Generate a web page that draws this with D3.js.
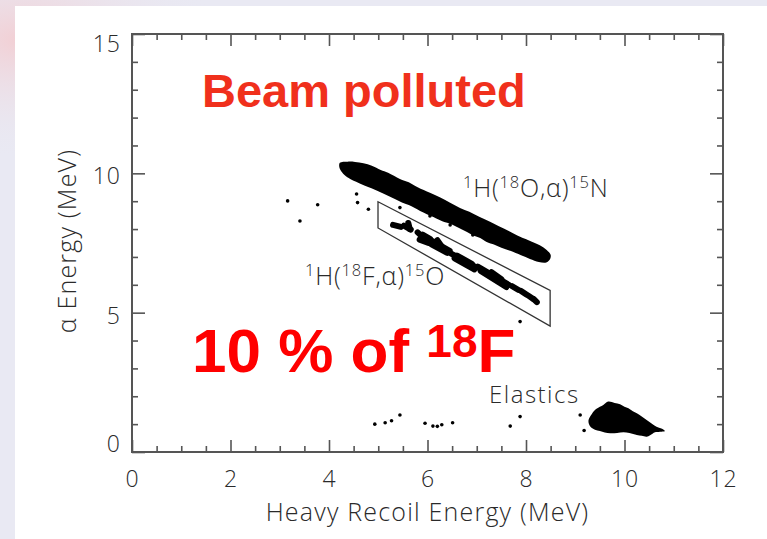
<!DOCTYPE html>
<html>
<head>
<meta charset="utf-8">
<script src="https://cdn.jsdelivr.net/npm/d3@7"></script>
<style>
  html, body { margin: 0; padding: 0; background: #e9e9f3; }
  svg { display: block; }
  .axis text { font-family: "Open Sans", "Liberation Sans", sans-serif; font-weight: 300; fill: #2a2a2a; }
  .lbl { font-family: "Open Sans", "Liberation Sans", sans-serif; font-weight: 300; fill: #2a2a2a; }
</style>
</head>
<body>
<script>
// Axis ticks
const xMajorTicks = [0, 2, 4, 6, 8, 10, 12];
const xMinorTicks = [0.5, 1, 1.5, 2.5, 3, 3.5, 4.5, 5, 5.5, 6.5, 7, 7.5, 8.5, 9, 9.5, 10.5, 11, 11.5];
const yMajorTicks = [0, 5, 10, 15];
const yMinorTicks = [1, 2, 3, 4, 6, 7, 8, 9, 11, 12, 13, 14];

// 1H(18O,alpha)15N locus: outline of the dense event band (heavy recoil MeV, alpha MeV)
const o18Band = [
  [4.22, 10.38], [4.38, 10.42], [4.53, 10.41], [4.70, 10.36], [4.87, 10.27],
  [5.05, 10.12], [5.20, 10.02], [5.44, 9.80], [5.62, 9.68], [5.80, 9.50],
  [6.05, 9.30], [6.25, 9.14], [6.45, 8.95], [6.66, 8.76], [6.85, 8.62],
  [7.05, 8.44], [7.27, 8.26], [7.45, 8.10], [7.65, 7.93], [7.88, 7.72],
  [8.05, 7.60], [8.28, 7.42], [8.42, 7.25], [8.50, 7.08], [8.49, 6.93],
  [8.41, 6.80], [8.26, 6.82], [8.08, 6.93], [7.90, 7.06], [7.68, 7.22],
  [7.50, 7.33], [7.36, 7.44], [7.20, 7.54], [7.07, 7.68], [6.90, 7.80],
  [6.70, 7.98], [6.46, 8.19], [6.30, 8.28], [6.12, 8.43], [5.85, 8.65],
  [5.62, 8.86], [5.45, 8.98], [5.24, 9.16], [5.00, 9.36], [4.73, 9.55],
  [4.55, 9.70], [4.43, 9.80], [4.32, 9.93], [4.26, 10.05], [4.21, 10.22]
];

// 1H(18F,alpha)15O locus: short event streaks inside the gate
const f18Streaks = [
  [[5.30, 8.15], [5.46, 8.08]],
  [[5.52, 8.12], [5.66, 7.98]],
  [[5.61, 8.22], [5.64, 8.00]],
  [[5.80, 7.88], [6.00, 7.55]],
  [[5.84, 7.62], [6.02, 7.50]],
  [[5.90, 7.80], [6.05, 7.65]],
  [[6.02, 7.65], [6.45, 7.22]],
  [[6.08, 7.45], [6.40, 7.15]],
  [[6.20, 7.60], [6.30, 7.35]],
  [[6.48, 7.12], [7.00, 6.62]],
  [[6.55, 6.95], [6.95, 6.55]],
  [[6.60, 7.05], [6.90, 6.75]],
  [[7.02, 6.65], [7.65, 6.00]],
  [[7.08, 6.50], [7.60, 5.92]],
  [[7.30, 6.45], [7.50, 6.20]],
  [[7.72, 5.95], [7.84, 5.82]],
  [[7.90, 5.78], [8.00, 5.66]],
  [[8.04, 5.62], [8.14, 5.50]],
  [[8.16, 5.48], [8.22, 5.38]]
];

// Software gate around the 18F locus
const gateBox = [[4.995, 8.98], [8.49, 5.80], [8.49, 4.52], [4.995, 8.04]];

// Elastically scattered beam
const elasticBlob = [
  [9.27, 1.15], [9.33, 1.35], [9.40, 1.51], [9.50, 1.62], [9.57, 1.69],
  [9.67, 1.81], [9.80, 1.76], [9.91, 1.71], [10.00, 1.62], [10.08, 1.57],
  [10.17, 1.46], [10.25, 1.39], [10.35, 1.27], [10.45, 1.15], [10.55, 1.02],
  [10.65, 0.91], [10.75, 0.84], [10.82, 0.75], [10.70, 0.72], [10.62, 0.71],
  [10.52, 0.60], [10.45, 0.55], [10.35, 0.58], [10.25, 0.61], [10.10, 0.68],
  [9.98, 0.71], [9.85, 0.68], [9.71, 0.67], [9.60, 0.70], [9.50, 0.75],
  [9.40, 0.80], [9.33, 0.87], [9.28, 1.00]
];

// Isolated events
const strayEvents = [
  [3.16, 9.01], [3.41, 8.29], [3.77, 8.87], [4.56, 9.26], [4.58, 8.95],
  [4.80, 8.71], [5.44, 8.77], [6.05, 8.47], [6.46, 8.15], [6.92, 7.79],
  [7.88, 4.68], [4.93, 1.00], [5.14, 1.05], [5.27, 1.12], [5.44, 1.33],
  [5.95, 1.03], [6.11, 0.93], [6.20, 0.92], [6.29, 0.98], [6.51, 1.05],
  [7.68, 0.93], [7.88, 1.27], [9.10, 1.33], [9.18, 0.77]
];

const W = 767, H = 539;
const svg = d3.select("body").append("svg").attr("width", W).attr("height", H);

// Slide backdrop
const defs = svg.append("defs");
const rg = defs.append("radialGradient").attr("id", "warm")
  .attr("cx", 0.5).attr("cy", 0.5).attr("r", 0.5);
rg.append("stop").attr("offset", "0%").attr("stop-color", "#f2cfd4");
rg.append("stop").attr("offset", "100%").attr("stop-color", "#e9e9f3").attr("stop-opacity", 0);
svg.append("rect").attr("width", W).attr("height", H).attr("fill", "#e9e9f3");
svg.append("ellipse").attr("cx", 20).attr("cy", 40).attr("rx", 200).attr("ry", 120).attr("fill", "url(#warm)");
svg.append("rect").attr("x", 15).attr("y", 6).attr("width", W - 15).attr("height", H - 6).attr("fill", "#ffffff");

const x = d3.scaleLinear().domain([0, 12]).range([132, 723]);
const y = d3.scaleLinear().domain([0, 15]).range([452, 34]);

const axisColor = "#555";

function styleAxis(g) {
  g.select(".domain").remove();
  g.selectAll(".tick line").attr("stroke", axisColor).attr("stroke-width", 1.6);
}

// Bottom
svg.append("g").attr("class", "axis").attr("transform", `translate(0,${y(0)})`)
  .call(d3.axisBottom(x).tickValues(xMinorTicks).tickSize(-6).tickFormat(""))
  .call(styleAxis);
svg.append("g").attr("class", "axis").attr("transform", `translate(0,${y(0)})`)
  .call(d3.axisBottom(x).tickValues(xMajorTicks).tickSize(-12).tickPadding(19).tickFormat(d3.format("d")))
  .call(styleAxis)
  .call(g => g.selectAll("text").attr("font-size", 23).attr("letter-spacing", 1));
// Top
svg.append("g").attr("class", "axis").attr("transform", `translate(0,${y(15)})`)
  .call(d3.axisTop(x).tickValues(xMinorTicks).tickSize(-6).tickFormat(""))
  .call(styleAxis);
svg.append("g").attr("class", "axis").attr("transform", `translate(0,${y(15)})`)
  .call(d3.axisTop(x).tickValues(xMajorTicks).tickSize(-12).tickFormat(""))
  .call(styleAxis);
// Left
svg.append("g").attr("class", "axis").attr("transform", `translate(${x(0)},0)`)
  .call(d3.axisLeft(y).tickValues(yMinorTicks).tickSize(-6).tickFormat(""))
  .call(styleAxis);
svg.append("g").attr("class", "axis").attr("transform", `translate(${x(0)},0)`)
  .call(d3.axisLeft(y).tickValues(yMajorTicks).tickSize(-13).tickPadding(11).tickFormat(d3.format("d")))
  .call(styleAxis)
  .call(g => g.selectAll("text").attr("font-size", 23).attr("letter-spacing", 1)
    .attr("dy", d => d === 15 ? "0.75em" : d === 0 ? "-0.02em" : "0.45em"));
// Right
svg.append("g").attr("class", "axis").attr("transform", `translate(${x(12)},0)`)
  .call(d3.axisRight(y).tickValues(yMinorTicks).tickSize(-6).tickFormat(""))
  .call(styleAxis);
svg.append("g").attr("class", "axis").attr("transform", `translate(${x(12)},0)`)
  .call(d3.axisRight(y).tickValues(yMajorTicks).tickSize(-13).tickFormat(""))
  .call(styleAxis);

// Frame
svg.append("rect")
  .attr("x", x(0)).attr("y", y(15))
  .attr("width", x(12) - x(0)).attr("height", y(0) - y(15))
  .attr("fill", "none").attr("stroke", axisColor).attr("stroke-width", 2);

// Axis titles
svg.append("text").attr("class", "lbl")
  .attr("x", (x(0) + x(12)) / 2 - 0).attr("y", 521)
  .attr("text-anchor", "middle").attr("font-size", 25).attr("letter-spacing", 1.2)
  .text("Heavy Recoil Energy (MeV)");
svg.append("text").attr("class", "lbl")
  .attr("transform", `translate(76,${y(7.5) - 2}) rotate(-90)`)
  .attr("text-anchor", "middle").attr("font-size", 25).attr("letter-spacing", 1.2)
  .text("α Energy (MeV)");

// Event data
const plot = svg.append("g");
const line = d3.line().x(d => x(d[0])).y(d => y(d[1]));

plot.append("path").datum(o18Band)
  .attr("d", line.curve(d3.curveCatmullRomClosed.alpha(0.5)))
  .attr("fill", "#000");

plot.selectAll("line.f18").data(f18Streaks).join("line")
  .attr("class", "f18")
  .attr("x1", d => x(d[0][0])).attr("y1", d => y(d[0][1]))
  .attr("x2", d => x(d[1][0])).attr("y2", d => y(d[1][1]))
  .attr("stroke", "#000").attr("stroke-width", 6).attr("stroke-linecap", "round");

plot.append("path").datum(elasticBlob)
  .attr("d", d3.line().x(d => x(d[0])).y(d => y(d[1])).curve(d3.curveCatmullRomClosed.alpha(0.5)))
  .attr("fill", "#000");

plot.selectAll("circle.stray").data(strayEvents).join("circle")
  .attr("class", "stray")
  .attr("cx", d => x(d[0])).attr("cy", d => y(d[1])).attr("r", 1.8)
  .attr("fill", "#000");

plot.append("path").datum(gateBox)
  .attr("d", d3.line().x(d => x(d[0])).y(d => y(d[1])).curve(d3.curveLinearClosed))
  .attr("fill", "none").attr("stroke", "#333").attr("stroke-width", 1.3);

// Reaction labels with superscripts
function formula(px, py, parts, size) {
  const t = svg.append("text").attr("class", "lbl").attr("x", px).attr("y", py)
    .attr("font-size", size).attr("letter-spacing", 0.8);
  let raised = false;
  parts.forEach(([s, sup]) => {
    const ts = t.append("tspan").text(s);
    if (sup && !raised) { ts.attr("dy", -size * 0.36).attr("font-size", size * 0.66); raised = true; }
    else if (sup) { ts.attr("font-size", size * 0.66); }
    else if (raised) { ts.attr("dy", size * 0.36); raised = false; }
  });
  return t;
}
formula(463, 197, [["1", true], ["H(", false], ["18", true], ["O,α)", false], ["15", true], ["N", false]], 25);
formula(305, 285, [["1", true], ["H(", false], ["18", true], ["F,α)", false], ["15", true], ["O", false]], 25);
svg.append("text").attr("class", "lbl").attr("x", 489).attr("y", 403)
  .attr("font-size", 24).attr("letter-spacing", 1.5).text("Elastics");

// Slide captions
svg.append("text")
  .attr("x", 202).attr("y", 107)
  .attr("font-family", "Liberation Sans, Arial, sans-serif").attr("font-weight", "bold")
  .attr("font-size", 47).attr("fill", "#f0301c")
  .text("Beam polluted");
const cap = svg.append("text")
  .attr("x", 192).attr("y", 372)
  .attr("font-family", "Liberation Sans, Arial, sans-serif").attr("font-weight", "bold")
  .attr("font-size", 62).attr("fill", "#ff0000");
cap.append("tspan").text("10 % of ");
cap.append("tspan").attr("dy", -15).attr("font-size", 46).text("18");
cap.append("tspan").attr("dy", 15).text("F");
</script>
</body>
</html>
